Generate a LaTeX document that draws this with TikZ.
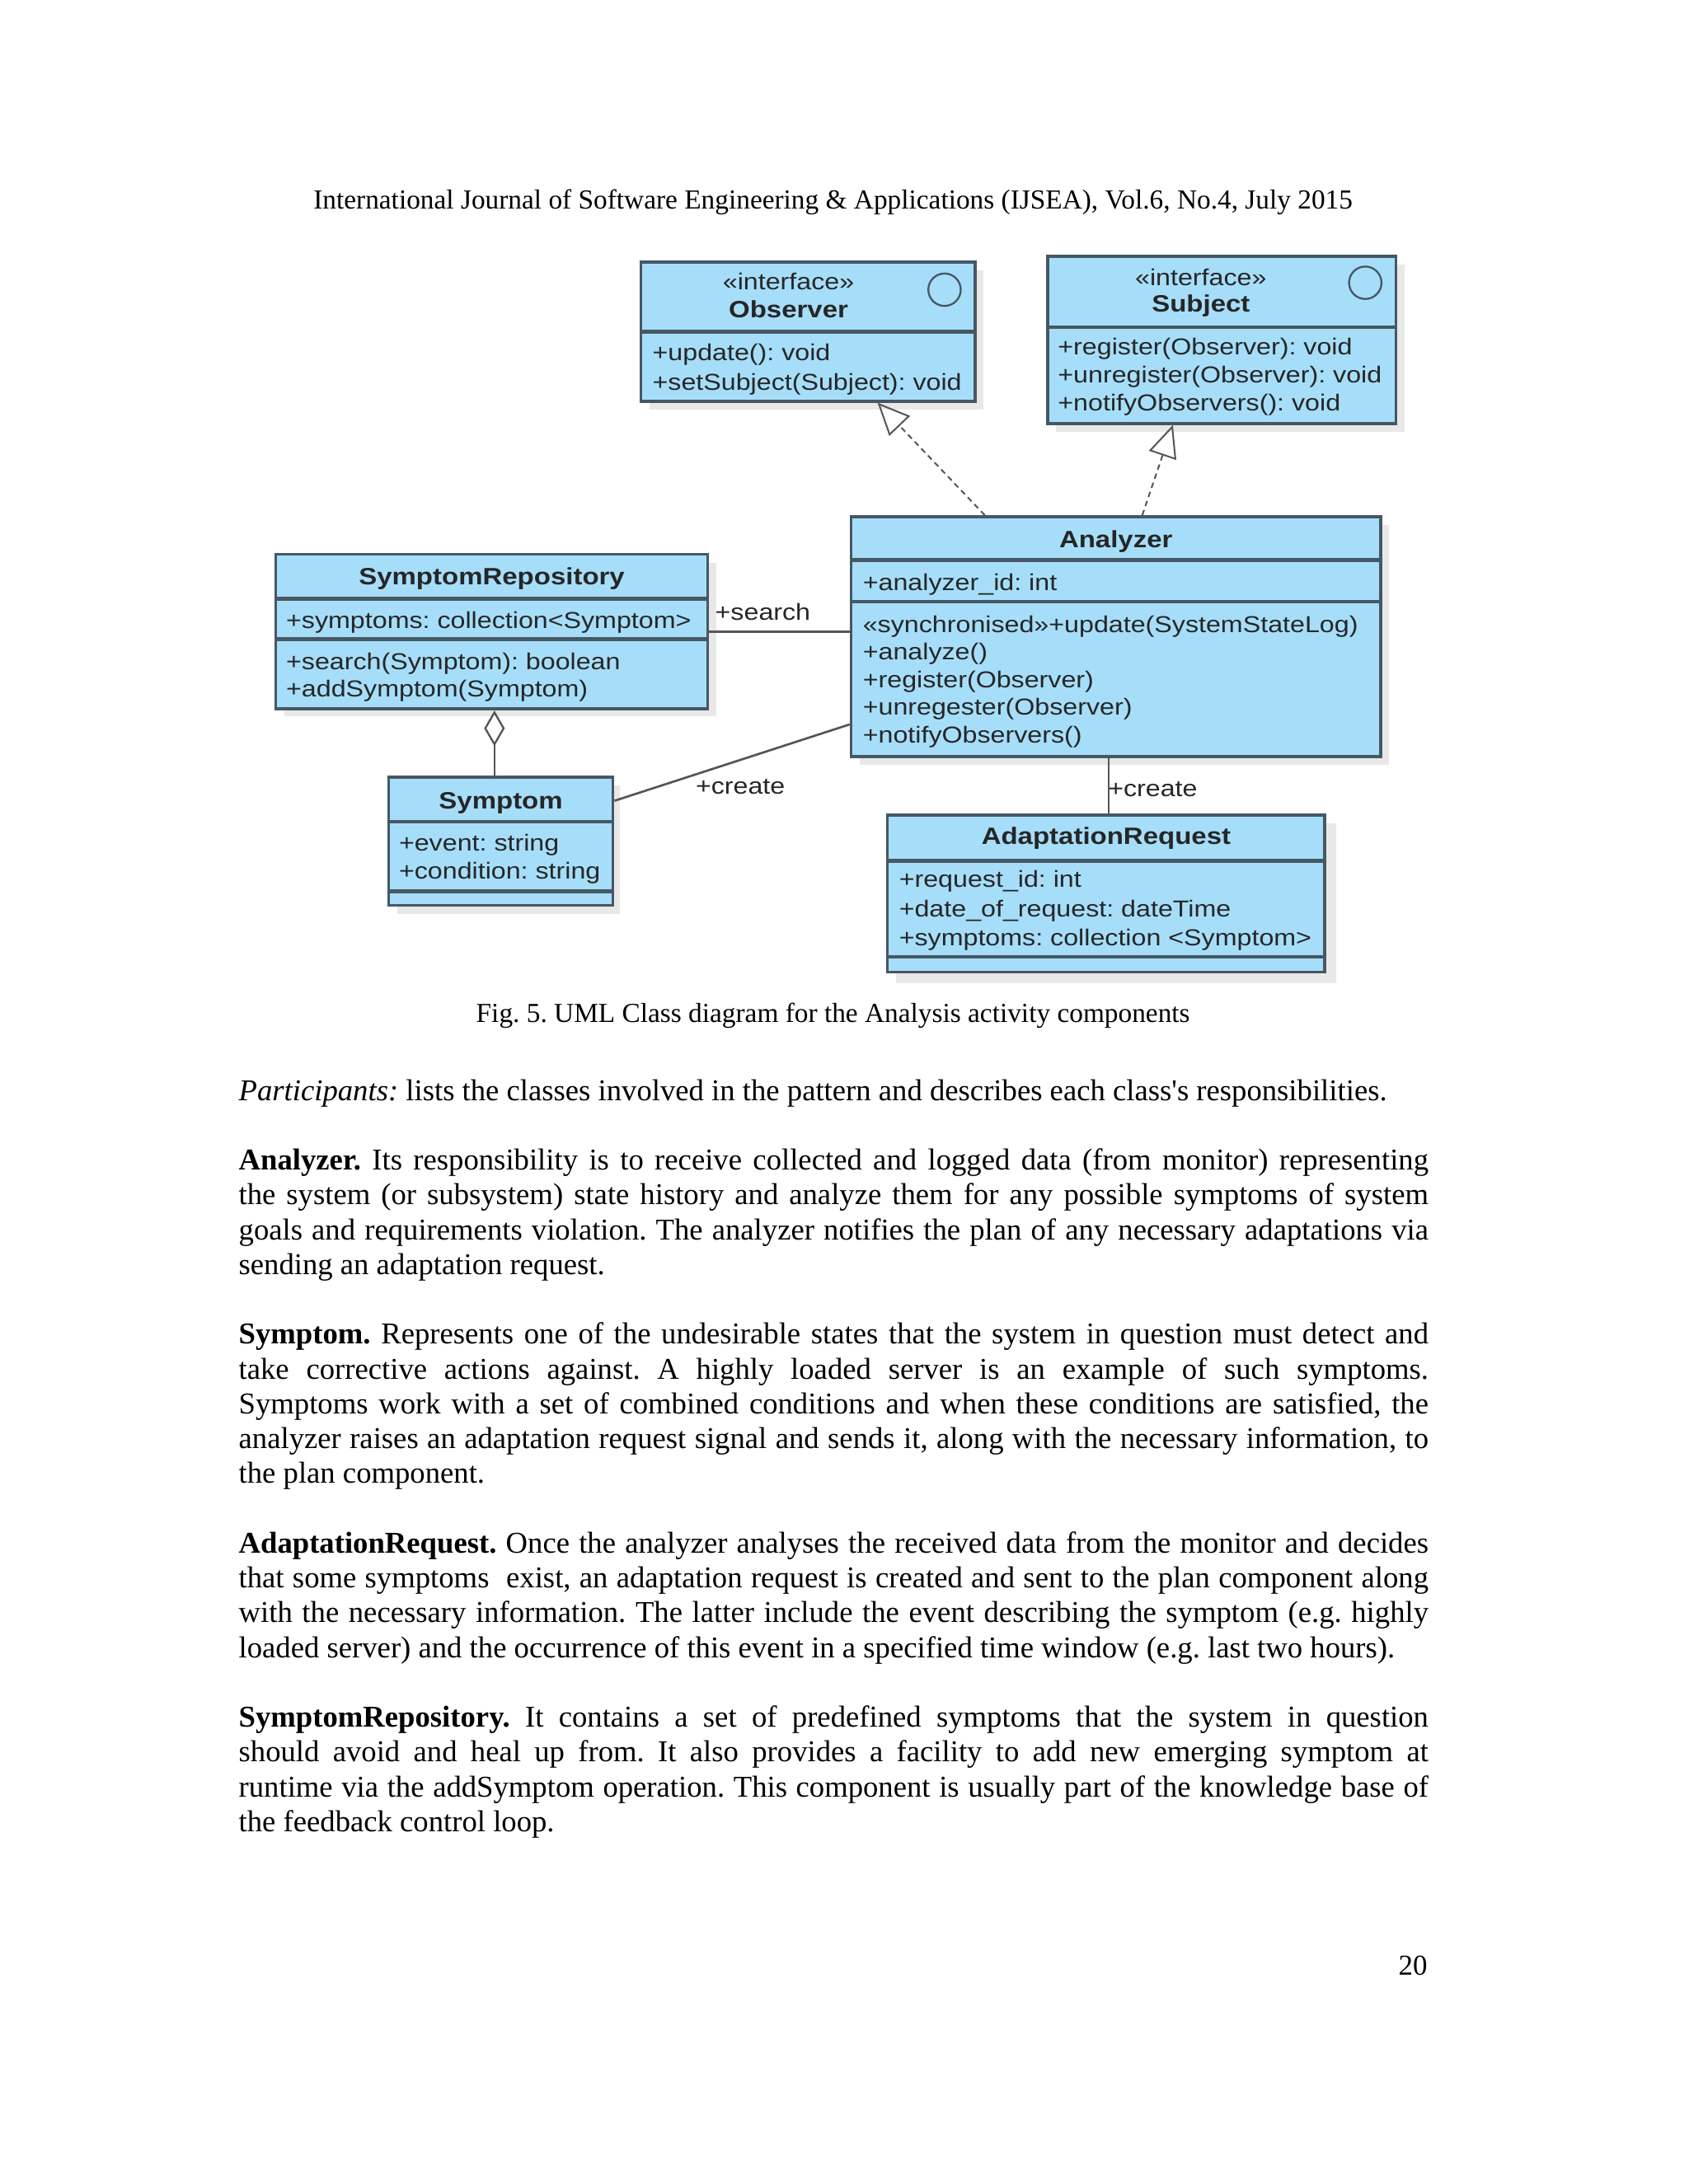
\documentclass[tikz,border=0pt]{standalone}
\usepackage{fontspec}
\setmainfont{Liberation Serif}
\newfontfamily\umlfont[FakeStretch=1.15]{Liberation Sans}
\usetikzlibrary{arrows.meta,fit,calc}
\definecolor{clsfill}{RGB}{166,222,250}
\definecolor{clsline}{RGB}{70,88,100}
\definecolor{conn}{RGB}{85,85,85}
\newcommand\justline[1]{\makebox[432.85pt][s]{#1}}
\newcommand\straightquote{\XeTeXglyph\XeTeXglyphindex "quotesingle"\relax}
\frenchspacing
\tikzset{
  cls/.style={draw=clsline, line width=1.1pt, fill=clsfill, inner sep=0pt},
  shadowbox/.style={fill=black!9},
  sepline/.style={draw=clsline, line width=1.4pt},
  icon/.style={draw=clsline, line width=0.7pt},
  mem/.style={anchor=base west, inner sep=0pt, text=black!85, font=\umlfont\fontsize{8.4}{10}\selectfont},
  cname/.style={anchor=base, inner sep=0pt, text=black!85, font=\umlfont\bfseries\fontsize{8.6}{10}\selectfont},
  ster/.style={anchor=base, inner sep=0pt, text=black!85, font=\umlfont\fontsize{8.4}{10}\selectfont},
  realize/.style={draw=conn, line width=0.6pt, dash pattern=on 2pt off 1.5pt,
     -{Triangle[open, length=11.7pt, width=10.4pt, line width=0.6pt]}},
  assoc/.style={draw=conn, line width=0.8pt},
  aggr/.style={draw=conn, line width=0.7pt, -{Diamond[open, length=13pt, width=7.5pt, line width=0.7pt]}},
  lbl/.style={anchor=base west, inner sep=0pt, text=black!85, font=\umlfont\fontsize{8.4}{10}\selectfont},
  body/.style={anchor=base west, inner sep=0pt, font=\fontsize{11}{12.65}\selectfont},
  small/.style={font=\fontsize{10}{12}\selectfont},
}
\begin{document}
\begin{tikzpicture}[x=0.50685pt, y=-0.50685pt]
\useasboundingbox[fill=white] (0,0) rectangle (1212,1568);

% header
\node[body, small, anchor=base] (hdr) at (598,150) {International Journal of Software Engineering \& Applications (IJSEA), Vol.6, No.4, July 2015};

% shadows
\fill[shadowbox] (466,194) rectangle (706,294);
\fill[shadowbox] (758,190) rectangle (1008,310);
\fill[shadowbox] (617,377) rectangle (997,549);
\fill[shadowbox] (204,404) rectangle (514,514);
\fill[shadowbox] (285,564) rectangle (445,656);
\fill[shadowbox] (643,591) rectangle (959,706);

% class boxes
\node[cls, fit={(460,188)(700,288)}] (obs) {};
\node[cls, fit={(752,184)(1002,304)}] (subj) {};
\node[cls, fit={(611,371)(991,543)}] (ana) {};
\node[cls, fit={(198,398)(508,509)}] (sr) {};
\node[cls, fit={(279,558)(440,650)}] (sym) {};
\node[cls, fit={(637,585)(951,698)}] (ar) {};

% compartment separators
\draw[sepline] (460,238) -- (700,238);
\draw[sepline] (752,235) -- (1002,235);
\draw[sepline] (611,402) -- (991,402);
\draw[sepline] (611,432) -- (991,432);
\draw[sepline] (198,430) -- (508,430);
\draw[sepline] (198,459) -- (508,459);
\draw[sepline] (279,590) -- (440,590);
\draw[sepline] (279,640) -- (440,640);
\draw[sepline] (637,618) -- (951,618);
\draw[sepline] (637,687) -- (951,687);

% interface icons
\draw[icon] (678,208) circle [radius=5.9pt];
\draw[icon] (980,203) circle [radius=5.9pt];

% Observer
\node[ster] (obsst) at (566,208) {«interface»};
\node[cname] (obsnm) at (566,228) {Observer};
\node[mem] (obsm1) at (468,259) {+update(): void};
\node[mem] (obsm2) at (468,280) {+setSubject(Subject): void};

% Subject
\node[ster] (subst) at (862,205) {«interface»};
\node[cname] (subnm) at (862,224) {Subject};
\node[mem] (subm1) at (759,254.5) {+register(Observer): void};
\node[mem] (subm2) at (759,275) {+unregister(Observer): void};
\node[mem] (subm3) at (759,295) {+notifyObservers(): void};

% Analyzer
\node[cname] (anant) at (801,393) {Analyzer};
\node[mem] (anaa1) at (619,424) {+analyzer\_id: int};
\node[mem] (anam1) at (619,454) {«synchronised»+update(SystemStateLog)};
\node[mem] (anam2) at (619,473.5) {+analyze()};
\node[mem] (anam3) at (619,493.5) {+register(Observer)};
\node[mem] (anam4) at (619,513.5) {+unregester(Observer)};
\node[mem] (anam5) at (619,533.5) {+notifyObservers()};

% SymptomRepository
\node[cname] (srnm) at (353,420) {SymptomRepository};
\node[mem] (sra1) at (205,451) {+symptoms: collection<Symptom>};
\node[mem] (srm1) at (205,480.5) {+search(Symptom): boolean};
\node[mem] (srm2) at (205,500) {+addSymptom(Symptom)};

% Symptom
\node[cname] (symnm) at (359.5,581) {Symptom};
\node[mem] (syma1) at (286,611) {+event: string};
\node[mem] (syma2) at (286,631) {+condition: string};

% AdaptationRequest
\node[cname] (arnm) at (794,606) {AdaptationRequest};
\node[mem] (ara1) at (645,637) {+request\_id: int};
\node[mem] (ara2) at (645,658.5) {+date\_of\_request: dateTime};
\node[mem] (ara3) at (645,679) {+symptoms: collection <Symptom>};

% connectors
\draw[realize] ($(ana.north west)+(97,0)$) -- ($(obs.south west)+(171,0)$);
\draw[realize] ($(ana.north west)+(210,0)$) -- ($(subj.south west)+(91,0)$);
\draw[assoc] (sr.east) -- (sr.east -| ana.west);
\node[lbl] (lsearch) at (513,445.5) {+search};
\draw[assoc] ($(sym.north east)+(0,18)$) -- ($(ana.south west)+(0,-24)$);
\node[lbl] (lcreate1) at (499,570) {+create};
\draw[aggr] ($(sym.north west)+(77,0)$) -- ($(sr.south west)+(158,0)$);
\draw[assoc] ($(ar.north west)+(160,0)$) -- ($(ana.south west)+(186,0)$);
\node[lbl] (lcreate2) at (795,572) {+create};

% caption
\node[body, small, anchor=base] (cap) at (598,734) {Fig. 5. UML Class diagram for the Analysis activity components};

% body text
\node[body] (p0) at (171,790) {\textit{Participants:} lists the classes involved in the pattern and describes each class\straightquote s responsibilities.};

\node[body] (a1) at (171,840) {\justline{\textbf{Analyzer.} Its responsibility is to receive collected and logged data (from monitor) representing}};
\node[body] (a2) at (171,865) {\justline{the system (or subsystem) state history and analyze them for any possible symptoms of system}};
\node[body] (a3) at (171,890) {\justline{goals and requirements violation. The analyzer notifies the plan of any necessary adaptations via}};
\node[body] (a4) at (171,915) {sending an adaptation request.};

\node[body] (s1) at (171,965) {\justline{\textbf{Symptom.} Represents one of the undesirable states that the system in question must detect and}};
\node[body] (s2) at (171,990) {\justline{take corrective actions against. A highly loaded server is an example of such symptoms.}};
\node[body] (s3) at (171,1015) {\justline{Symptoms work with a set of combined conditions and when these conditions are satisfied, the}};
\node[body] (s4) at (171,1040) {\justline{analyzer raises an adaptation request signal and sends it, along with the necessary information, to}};
\node[body] (s5) at (171,1065) {the plan component.};

\node[body] (r1) at (171,1115) {\justline{\textbf{AdaptationRequest.} Once the analyzer analyses the received data from the monitor and decides}};
\node[body] (r2) at (171,1140) {\justline{that some symptoms\ \ exist, an adaptation request is created and sent to the plan component along}};
\node[body] (r3) at (171,1165) {\justline{with the necessary information. The latter include the event describing the symptom (e.g. highly}};
\node[body] (r4) at (171,1190) {loaded server) and the occurrence of this event in a specified time window (e.g. last two hours).};

\node[body] (k1) at (171,1240) {\justline{\textbf{SymptomRepository.} It contains a set of predefined symptoms that the system in question}};
\node[body] (k2) at (171,1265) {\justline{should avoid and heal up from. It also provides a facility to add new emerging symptom at}};
\node[body] (k3) at (171,1290) {\justline{runtime via the addSymptom operation. This component is usually part of the knowledge base of}};
\node[body] (k4) at (171,1315) {the feedback control loop.};

% page number
\node[body, anchor=base east, font=\fontsize{10.5}{12}\selectfont] (pg) at (1025,1418) {20};
\end{tikzpicture}
\end{document}
